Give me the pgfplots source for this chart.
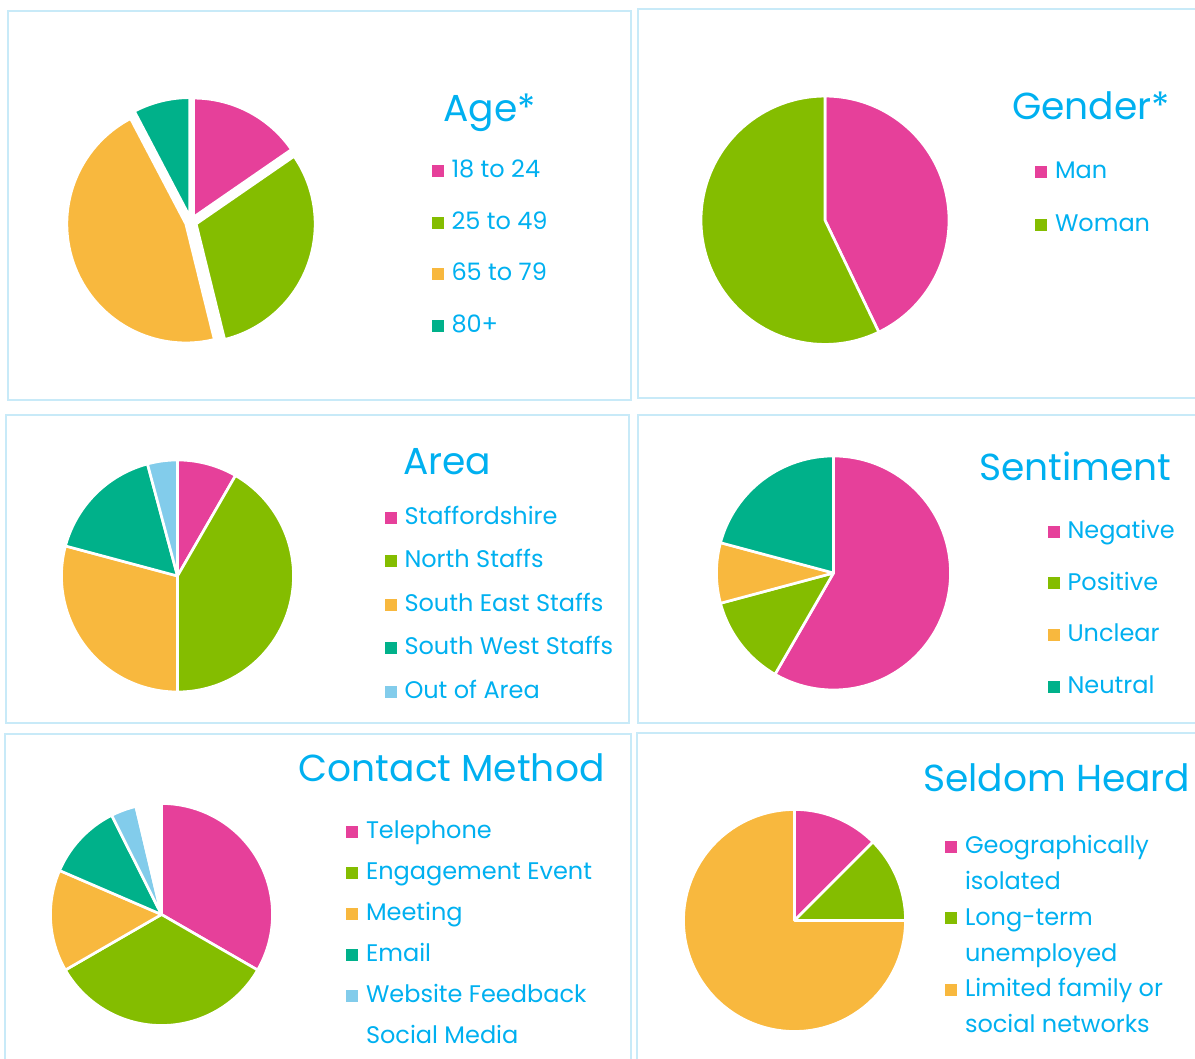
\documentclass[border=0pt]{standalone}
\usepackage{fontspec}
\setmainfont{Poppins}
\usepackage{pgfplots}
\pgfplotsset{compat=1.18}
\definecolor{piepink}{HTML}{E6409A}
\definecolor{piegreen}{HTML}{84BD00}
\definecolor{pieorange}{HTML}{F8B83E}
\definecolor{pieteal}{HTML}{00B18A}
\definecolor{pielight}{HTML}{82CCEB}
\definecolor{textblue}{HTML}{00B0F0}
\definecolor{framecol}{HTML}{C8EAF8}
\newcommand{\titlefont}{\fontsize{28.2}{33}\selectfont}
\newcommand{\legfont}{\fontsize{18}{22}\selectfont}
\tikzset{piewedge/.style={draw=white, line width=2pt, line join=round}}
\newcommand{\drawpie}[5]{%
  \gdef\pietotal{0}%
  \foreach \v/\col in {#5}{\pgfmathparse{\pietotal+\v}\xdef\pietotal{\pgfmathresult}}%
  \gdef\piecum{0}%
  \foreach \v/\col in {#5}{%
    \pgfmathsetmacro\aone{90-360*(\piecum+\v)/\pietotal}%
    \pgfmathsetmacro\atwo{90-360*\piecum/\pietotal}%
    \pgfmathsetmacro\ox{#1+#4*cos((\aone+\atwo)/2)}%
    \pgfmathsetmacro\oy{#2+#4*sin((\aone+\atwo)/2)}%
    \pgfmathparse{\piecum+\v}\xdef\piecum{\pgfmathresult}%
    \edef\pietmp{\noexpand\addplot[piewedge,fill=\col,domain=\aone:\atwo,samples=80] ({\ox+#3*cos(\noexpand\x)},{\oy+#3*sin(\noexpand\x)}) -- (axis cs:\ox,\oy) -- cycle;}%
    \pietmp
  }%
}
\pgfplotsset{panel/.style={scale only axis, xtick=\empty, ytick=\empty,
  axis line style={draw=framecol, line width=1.5pt}, anchor=south west,
  legend image code/.code={\fill[##1,draw=none] (0pt,0.4pt) rectangle (9pt,9.4pt);},
  legend style={draw=none, fill=none, inner sep=0pt, outer sep=0pt, anchor=north west,
    column sep=6pt, cells={anchor=base west},
    nodes={inner sep=0pt, text height=15pt, text depth=4.5pt, text=textblue, font=\legfont}}}}
\begin{document}
\begin{tikzpicture}
\path[use as bounding box] (0,0) rectangle (896.25pt,794.25pt);
% Age
\begin{axis}[panel, at={(6pt,494.25pt)}, width=467.25pt, height=291.75pt,
  xmin=8, xmax=631, ymin=659, ymax=1048,
  legend style={at={(axis cs:431.5,901)}, row sep=19.1pt}]
\drawpie{191}{837}{119}{5.5}{2/piepink, 4/piegreen, 6/pieorange, 1/pieteal}
\legend{18 to 24, 25 to 49, 65 to 79, 80+}
\node[anchor=base west, inner sep=0, text=textblue, font=\titlefont] at (axis cs:443,937.3) {Age*};
\end{axis}
% Gender
\begin{axis}[panel, at={(478.5pt,495.75pt)}, width=425.25pt, height=291pt,
  xmin=638, xmax=1205, ymin=661, ymax=1049,
  legend style={at={(axis cs:1035,900)}, row sep=20pt}]
\drawpie{825}{838.5}{124}{0}{3/piepink, 4/piegreen}
\legend{Man, Woman}
\node[anchor=base west, inner sep=0, text=textblue, font=\titlefont] at (axis cs:1012,939) {Gender*};
\end{axis}
% Area
\begin{axis}[panel, at={(4.5pt,252pt)}, width=467.25pt, height=231pt,
  xmin=6, xmax=629, ymin=336, ymax=644,
  legend style={at={(axis cs:384.5,554.7)}, row sep=13.1pt}]
\drawpie{177.5}{483}{116}{0}{2/piepink, 10/piegreen, 7/pieorange, 4/pieteal, 1/pielight}
\legend{Staffordshire, North Staffs, South East Staffs, South West Staffs, Out of Area}
\node[anchor=base west, inner sep=0, text=textblue, font=\titlefont] at (axis cs:403,584) {Area};
\end{axis}
% Sentiment
\begin{axis}[panel, at={(478.5pt,252pt)}, width=425.25pt, height=231pt,
  xmin=638, xmax=1205, ymin=336, ymax=644,
  legend style={at={(axis cs:1047.5,540.7)}, row sep=19.3pt}]
\drawpie{833.5}{486}{117}{0}{14/piepink, 3/piegreen, 2/pieorange, 5/pieteal}
\legend{Negative, Positive, Unclear, Neutral}
\node[anchor=base west, inner sep=0, text=textblue, font=\titlefont] at (axis cs:979,578) {Sentiment};
\end{axis}
% Contact Method
\begin{axis}[panel, at={(3.75pt,-4.5pt)}, width=469.5pt, height=248.25pt,
  xmin=5, xmax=631, ymin=-6, ymax=325,
  legend style={at={(axis cs:346,240.7)}, row sep=11.3pt}]
\drawpie{161.5}{144.5}{111}{0}{9/piepink, 9/piegreen, 4/pieorange, 3/pieteal, 1/pielight, 1/white}
\legend{Telephone, Engagement Event, Meeting, Email, Website Feedback, Social Media}
\node[anchor=base west, inner sep=0, text=textblue, font=\titlefont] at (axis cs:298.5,277.3) {Contact Method};
\end{axis}
% Seldom Heard
\begin{axis}[panel, at={(477.75pt,-4.5pt)}, width=426pt, height=249pt,
  xmin=637, xmax=1205, ymin=-6, ymax=326,
  legend style={at={(axis cs:945,225.7)}, row sep=7.3pt,
    nodes={text depth=31.5pt}}]
\drawpie{794.5}{138.5}{111}{0}{1/piepink, 1/piegreen, 6/pieorange}
\legend{{\parbox[t]{200pt}{\fontsize{18}{27}\selectfont Geographically\\isolated}},
  {\parbox[t]{200pt}{\fontsize{18}{27}\selectfont Long-term\\unemployed}},
  {\parbox[t]{200pt}{\fontsize{18}{27}\selectfont Limited family or\\social networks}}}
\node[anchor=base west, inner sep=0, text=textblue, font=\titlefont] at (axis cs:923,267.3) {Seldom Heard};
\end{axis}
\end{tikzpicture}
\end{document}
